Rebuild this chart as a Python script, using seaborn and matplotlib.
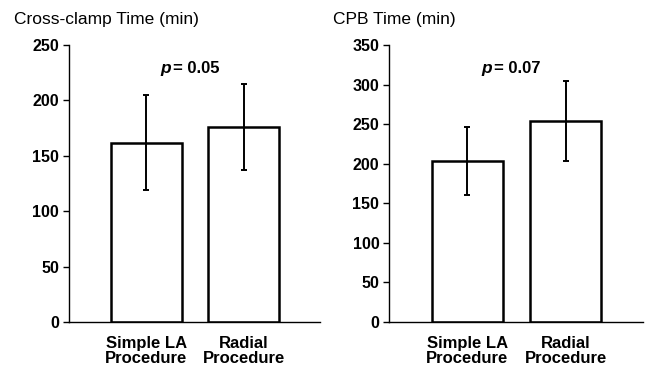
import numpy as np
import pandas as pd
import matplotlib
matplotlib.use("Agg")
import matplotlib.pyplot as plt
import seaborn as sns

# values (mean +/- SD, minutes)
groups = ["Simple LA\nProcedure", "Radial\nProcedure"]
clamp_mean = [162, 176]
clamp_sd = [43, 39]
cpb_mean = [204, 254]
cpb_sd = [43, 50]
p_values = ["0.05", "0.07"]
titles = ["Cross-clamp Time (min)", "CPB Time (min)"]
y_max = [250, 350]
y_step = [50, 50]

sns.set_style("ticks")
plt.rcParams["font.family"] = ["Liberation Sans", "DejaVu Sans"]
plt.rcParams["text.color"] = "black"
plt.rcParams["xtick.color"] = "black"
plt.rcParams["ytick.color"] = "black"
plt.rcParams["axes.edgecolor"] = "black"

fig = plt.figure(figsize=(6.47, 3.70), dpi=100)
ax1 = fig.add_axes([0.1066, 0.1297, 0.388, 0.7486])
ax2 = fig.add_axes([0.6012, 0.1297, 0.3926, 0.7486])

panels = [(ax1, clamp_mean, clamp_sd), (ax2, cpb_mean, cpb_sd)]
for i, (ax, mean, sd) in enumerate(panels):
    df = pd.DataFrame({"group": groups, "value": mean})
    sns.barplot(data=df, x="group", y="value", ax=ax, color="white",
                edgecolor="black", linewidth=1.8, width=0.725, errorbar=None,
                saturation=1)
    ax.errorbar(range(len(mean)), mean, yerr=sd, fmt="none", ecolor="black",
                elinewidth=1.4, capsize=2.5, capthick=1.4)
    ax.set_xlim(-0.795, 1.785)
    ax.set_ylim(0, y_max[i])
    ax.set_yticks(np.arange(0, y_max[i] + 1, y_step[i]))
    ax.set_xlabel("")
    ax.set_ylabel("")
    sns.despine(ax=ax)
    ax.spines["left"].set_linewidth(1)
    ax.spines["bottom"].set_linewidth(1)
    ax.tick_params(axis="y", length=4, width=1, labelsize=11.5, pad=3,
                   labelcolor="black")
    ax.tick_params(axis="x", length=0, labelsize=12, pad=10,
                   labelcolor="black")
    for lab in ax.get_yticklabels():
        lab.set_fontweight("bold")
    for lab in ax.get_xticklabels():
        lab.set_fontweight("bold")
        lab.set_linespacing(1.0)
    ax.text(0.25, y_max[i] * 0.917, "p", fontsize=12.5, fontweight="bold",
            fontstyle="italic", ha="right", va="center", color="black")
    ax.text(0.27, y_max[i] * 0.917, "= " + p_values[i], fontsize=12,
            fontweight="bold", ha="left", va="center", color="black")

fig.text(0.021, 0.948, titles[0], fontsize=12.5, va="center", ha="left")
fig.text(0.514, 0.948, titles[1], fontsize=12.5, va="center", ha="left")

fig.savefig("out.png", dpi=100)
